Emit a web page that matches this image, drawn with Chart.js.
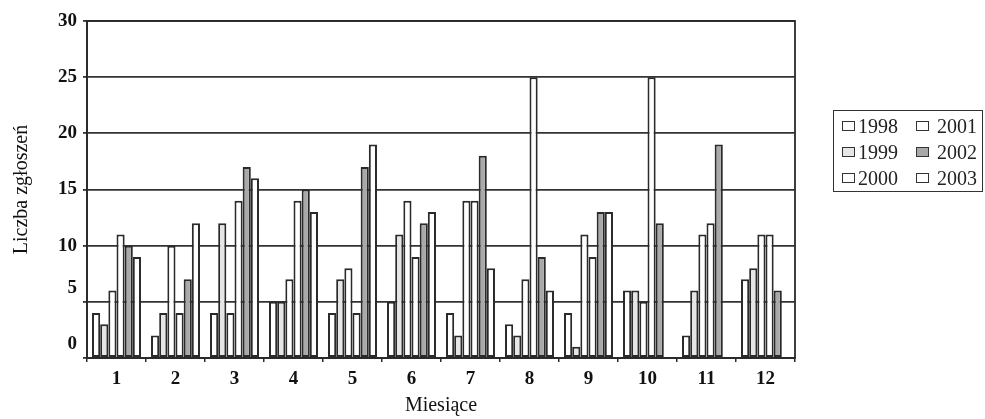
<!DOCTYPE html>
<html>
<head>
<meta charset="utf-8">
<script src="https://cdn.jsdelivr.net/npm/chart.js@4"></script>
<style>
  html, body { margin: 0; padding: 0; background: #fff; }
  #wrap { position: relative; width: 985px; height: 419px; }
  #legend {
    position: absolute; left: 833px; top: 110px; width: 150px; height: 82px;
    border: 1.5px solid #333; box-sizing: border-box;
    display: grid; grid-template-columns: 74px 74px; grid-auto-flow: column;
    grid-template-rows: repeat(3, 26px); padding: 2px 0 0 8px;
    font-family: "Liberation Serif", serif; font-size: 20px; color: #222;
  }
  .item { display: flex; align-items: center; }
  .swatch { width: 11px; height: 8px; border: 1.5px solid #333; margin-right: 3px; }
</style>
</head>
<body>
<div id="wrap">
  <canvas id="chart" width="985" height="419"></canvas>
  <div id="legend"></div>
</div>
<script>
  const months = ["1", "2", "3", "4", "5", "6", "7", "8", "9", "10", "11", "12"];
  const years = ["1998", "1999", "2000", "2001", "2002", "2003"];

  // values, month 1..12
  const v1998 = [4, 2, 4, 5, 4, 5, 4, 3, 4, 6, 2, 7];
  const v1999 = [3, 4, 12, 5, 7, 11, 2, 2, 1, 6, 6, 8];
  const v2000 = [6, 10, 4, 7, 8, 14, 14, 7, 11, 5, 11, 11];
  const v2001 = [11, 4, 14, 14, 4, 9, 14, 25, 9, 25, 12, 11];
  const v2002 = [10, 7, 17, 15, 17, 12, 18, 9, 13, 12, 19, 6];
  const v2003 = [9, 12, 16, 13, 19, 13, 8, 6, 13, null, null, null];

  const yTicks = [0, 5, 10, 15, 20, 25, 30];
  const fills = ["#ffffff", "#e6e6e6", "#ffffff", "#ffffff", "#a9a9a9", "#ffffff"];
  const series = [v1998, v1999, v2000, v2001, v2002, v2003];

  const datasets = years.map((year, i) => ({
    label: year,
    data: series[i],
    backgroundColor: fills[i],
    borderColor: "#2a2a2a",
    borderWidth: 2,
    borderSkipped: false,
    barPercentage: 1.0,
    categoryPercentage: 0.83,
  }));

  const serif = "'Liberation Serif', 'Times New Roman', serif";

  // plot frame on top of gridlines, plus the y labels (the lowest two sit
  // higher than their lines in the original print)
  const framePlugin = {
    id: "frame",
    afterDraw(chart) {
      const a = chart.chartArea;
      const ctx = chart.ctx;
      const y = chart.scales.y;
      ctx.save();
      ctx.strokeStyle = "#2a2a2a";
      ctx.lineWidth = 1.8;
      ctx.strokeRect(a.left, a.top, a.right - a.left, a.bottom - a.top);
      ctx.fillStyle = "#111";
      ctx.font = `bold 19px ${serif}`;
      ctx.textAlign = "right";
      ctx.textBaseline = "middle";
      yTicks.forEach((v) => {
        const shift = v <= 5 ? -14 : 0;
        ctx.fillText(String(v), y.right - 10, y.getPixelForValue(v) + shift);
      });
      ctx.restore();
    },
  };

  new Chart(document.getElementById("chart"), {
    type: "bar",
    data: {labels: months, datasets},
    options: {
      responsive: false,
      animation: false,
      layout: {padding: {top: 21, right: 190, left: 0, bottom: 0}},
      plugins: {legend: {display: false}, tooltip: {enabled: false}},
      scales: {
        x: {
          grid: {drawOnChartArea: false, color: "#2a2a2a", lineWidth: 1.5, tickLength: 4},
          border: {color: "#2a2a2a", width: 1.8},
          ticks: {color: "#111", padding: 6, font: {family: serif, size: 19, weight: "bold"}},
          title: {
            display: true, text: "Miesiące", color: "#111",
            font: {family: serif, size: 20}, padding: {top: 0, bottom: 1},
          },
          afterFit(scale) { scale.height = 61; },
        },
        y: {
          min: 0, max: 30,
          afterBuildTicks(scale) { scale.ticks = yTicks.map((v) => ({value: v})); },
          grid: {color: "#333", lineWidth: 1.8, tickLength: 4},
          border: {color: "#2a2a2a", width: 1.8},
          ticks: {display: false},
          title: {
            display: true, text: "Liczba zgłoszeń", color: "#111",
            font: {family: serif, size: 20}, padding: {top: 10, bottom: 0},
          },
          afterFit(scale) { scale.width = 87; },
        },
      },
    },
    plugins: [framePlugin],
  });

  // column-major legend: 1998-2000 left, 2001-2003 right
  const legend = document.getElementById("legend");
  years.forEach((year, i) => {
    const item = document.createElement("div");
    item.className = "item";
    const sw = document.createElement("span");
    sw.className = "swatch";
    sw.style.background = fills[i];
    item.appendChild(sw);
    item.appendChild(document.createTextNode((i >= 3 ? "\u00a0" : "") + year));
    legend.appendChild(item);
  });
</script>
</body>
</html>
